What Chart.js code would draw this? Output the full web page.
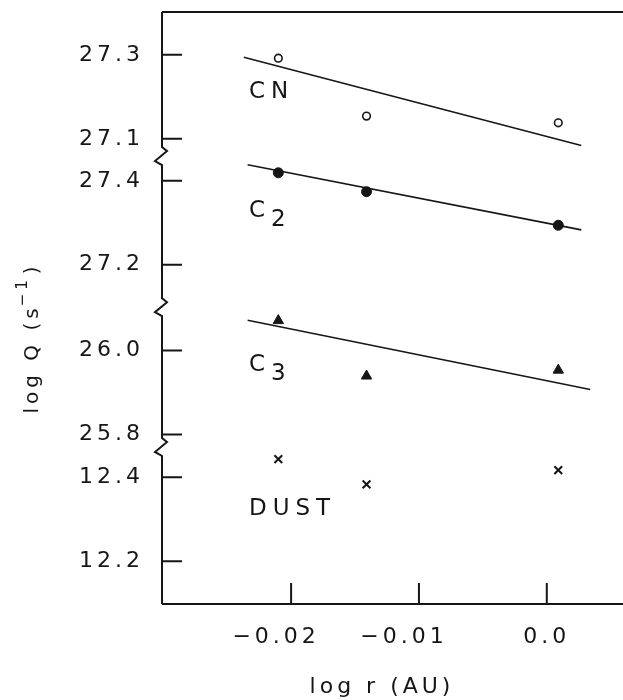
<!DOCTYPE html>
<html lang="en">
<head>
<meta charset="UTF-8">
<title>log Q versus log r</title>
<script src="https://cdn.jsdelivr.net/npm/chart.js@4.4.1/dist/chart.umd.min.js"></script>
<style>
  html, body { margin: 0; padding: 0; background: #fff; }
  #wrap { width: 623px; height: 700px; position: relative; }
</style>
</head>
<body>
<div id="wrap"><canvas id="chart"></canvas></div>
<script>
// log r (AU) of the three observations
const logR = [-0.021, -0.0141, 0.0009];

// production rates, log Q (s^-1)
const cnQ   = [27.292, 27.154, 27.138];
const c2Q   = [27.419, 27.374, 27.294];
const c3Q   = [26.071, 25.939, 25.953];
const dustQ = [12.443, 12.383, 12.417];

// fitted lines, end points
const cnFitR = [-0.0237, 0.0027];
const cnFitQ = [27.294, 27.084];
const c2FitR = [-0.0234, 0.0027];
const c2FitQ = [27.438, 27.283];
const c3FitR = [-0.0234, 0.0034];
const c3FitQ = [26.072, 25.907];

// tick labels
const xTicks = [-0.02, -0.01, 0.0];
const xTickLabels = ['−0.02', '−0.01', '0.0'];
const cnTicks = [27.3, 27.1];
const c2Ticks = [27.4, 27.2];
const c3Ticks = [26.0, 25.8];
const dustTicks = [12.4, 12.2];

// broken y axis: each panel is shifted onto one shared scale
const shiftCN = -25.992;
const shiftC2 = -26.392;
const shiftC3 = -25.396;
const shiftDust = -12.098;
const axisBreaks = [1.067, 0.707, 0.374];   // shared-scale units, top to bottom

// species names, written at the left of each panel
const labelR = -0.0233;
const speciesLabels = [
  { text: 'CN',   sub: '',  q: 27.212 + shiftCN },
  { text: 'C',    sub: '2', q: 27.328 + shiftC2 },
  { text: 'C',    sub: '3', q: 25.965 + shiftC3 },
  { text: 'DUST', sub: '',  q: 12.324 + shiftDust }
];

const ink = '#161616';
const fontFamily = '"DejaVu Sans", sans-serif';

const yTicks = [];
[[cnTicks, shiftCN], [c2Ticks, shiftC2], [c3Ticks, shiftC3], [dustTicks, shiftDust]].forEach(([vals, s]) => {
  vals.forEach(v => yTicks.push({ value: v + s, text: v.toFixed(1) }));
});
yTicks.sort((a, b) => a.value - b.value);

function points(q, shift) {
  return logR.map((r, i) => ({ x: r, y: q[i] + shift }));
}
function fitLine(r, q, shift) {
  return r.map((v, i) => ({ x: v, y: q[i] + shift }));
}

const lineStyle = {
  showLine: true, pointRadius: 0, borderColor: ink, borderWidth: 1.6, fill: false
};

const framePlugin = {
  id: 'frame',
  beforeDraw(chart) {
    chart.ctx.letterSpacing = '4px';
  },
  afterDraw(chart) {
    const { ctx, chartArea: a, scales: { x, y } } = chart;
    ctx.save();
    ctx.strokeStyle = ink;
    ctx.lineWidth = 2;

    // top and bottom lines run off the right edge
    ctx.beginPath();
    ctx.moveTo(a.left, a.top);
    ctx.lineTo(chart.width, a.top);
    ctx.moveTo(a.left, a.bottom);
    ctx.lineTo(chart.width, a.bottom);
    ctx.stroke();

    // left axis with break marks
    ctx.beginPath();
    ctx.moveTo(a.left, a.top);
    axisBreaks.forEach(b => {
      const c = y.getPixelForValue(b);
      ctx.lineTo(a.left, c - 9);
      ctx.lineTo(a.left + 5, c - 5);
      ctx.lineTo(a.left - 7, c + 5);
      ctx.lineTo(a.left, c + 9);
    });
    ctx.lineTo(a.left, a.bottom);
    ctx.stroke();

    // ticks point inward
    ctx.beginPath();
    y.ticks.forEach(t => {
      const p = y.getPixelForValue(t.value);
      ctx.moveTo(a.left, p);
      ctx.lineTo(a.left + 20, p);
    });
    x.ticks.forEach(t => {
      const p = x.getPixelForValue(t.value);
      ctx.moveTo(p, a.bottom);
      ctx.lineTo(p, a.bottom - 21);
    });
    ctx.stroke();

    // species names
    ctx.fillStyle = ink;
    ctx.textAlign = 'left';
    ctx.textBaseline = 'middle';
    ctx.font = '23px ' + fontFamily;
    ctx.letterSpacing = '6px';
    speciesLabels.forEach(l => {
      const px = x.getPixelForValue(labelR);
      const py = y.getPixelForValue(l.q);
      ctx.fillText(l.text, px, py);
      if (l.sub) {
        const w = ctx.measureText(l.text).width;
        ctx.fillText(l.sub, px + w, py + 9);
      }
    });

    // y axis title, rotated, with the superscript drawn by hand
    ctx.letterSpacing = '4px';
    ctx.translate(33, (a.top + a.bottom) / 2 + 30);
    ctx.rotate(-Math.PI / 2);
    ctx.font = '20px ' + fontFamily;
    const main = 'log Q (s';
    const wMain = ctx.measureText(main).width;
    ctx.font = '15px ' + fontFamily;
    const wSup = ctx.measureText('−1').width;
    ctx.font = '20px ' + fontFamily;
    const wClose = ctx.measureText(')').width;
    let tx = -(wMain + wSup + wClose) / 2;
    ctx.fillText(main, tx, 0);
    tx += wMain;
    ctx.font = '15px ' + fontFamily;
    ctx.fillText('−1', tx - 2, -10);
    tx += wSup;
    ctx.font = '20px ' + fontFamily;
    ctx.fillText(')', tx, 0);
    ctx.restore();
  }
};

new Chart(document.getElementById('chart'), {
  type: 'scatter',
  data: {
    datasets: [
      Object.assign({ label: 'CN fit', data: fitLine(cnFitR, cnFitQ, shiftCN) }, lineStyle),
      Object.assign({ label: 'C2 fit', data: fitLine(c2FitR, c2FitQ, shiftC2) }, lineStyle),
      Object.assign({ label: 'C3 fit', data: fitLine(c3FitR, c3FitQ, shiftC3) }, lineStyle),
      {
        label: 'CN', data: points(cnQ, shiftCN),
        pointStyle: 'circle', pointRadius: 3.8, pointBackgroundColor: '#fff',
        pointBorderColor: ink, pointBorderWidth: 1.6
      },
      {
        label: 'C2', data: points(c2Q, shiftC2),
        pointStyle: 'circle', pointRadius: 5, pointBackgroundColor: ink,
        pointBorderColor: ink, pointBorderWidth: 1
      },
      {
        label: 'C3', data: points(c3Q, shiftC3),
        pointStyle: 'triangle', pointRadius: 6, pointBackgroundColor: ink,
        pointBorderColor: ink, pointBorderWidth: 1
      },
      {
        label: 'Dust', data: points(dustQ, shiftDust),
        pointStyle: 'crossRot', pointRadius: 5.5, pointBorderColor: ink,
        pointBorderWidth: 2
      }
    ]
  },
  options: {
    responsive: true,
    maintainAspectRatio: false,
    animation: false,
    layout: { padding: { top: 12, right: 21, bottom: 0, left: 0 } },
    plugins: {
      legend: { display: false },
      tooltip: { enabled: false }
    },
    scales: {
      x: {
        type: 'linear',
        min: -0.0301,
        max: 0.00432,
        afterBuildTicks: s => { s.ticks = xTicks.map(v => ({ value: v })); },
        afterFit: s => {
          s.height = 96;
          s.paddingLeft = 0;
          s.paddingRight = 0;
        },
        grid: { display: false, drawTicks: false },
        border: { display: false },
        ticks: {
          autoSkip: false,
          maxRotation: 0,
          padding: 20,
          color: ink,
          font: { family: fontFamily, size: 22 },
          callback: (v, i) => xTickLabels[i] + (v < 0 ? '\u2002\u2002' : '')
        },
        title: {
          display: true,
          text: 'log r (AU)',
          color: ink,
          font: { family: fontFamily, size: 22 },
          padding: { top: 0, bottom: 0 }
        }
      },
      y: {
        type: 'linear',
        min: 0,
        max: 1.41,
        afterBuildTicks: s => { s.ticks = yTicks.map(t => ({ value: t.value })); },
        afterFit: s => {
          s.width = 162;
          s.paddingTop = 0;
          s.paddingBottom = 0;
        },
        grid: { display: false, drawTicks: false },
        border: { display: false },
        ticks: {
          autoSkip: false,
          padding: 18,
          color: ink,
          font: { family: fontFamily, size: 22 },
          callback: v => {
            const t = yTicks.find(k => Math.abs(k.value - v) < 1e-6);
            return t ? t.text : '';
          }
        }
      }
    }
  },
  plugins: [framePlugin]
});
</script>
</body>
</html>
